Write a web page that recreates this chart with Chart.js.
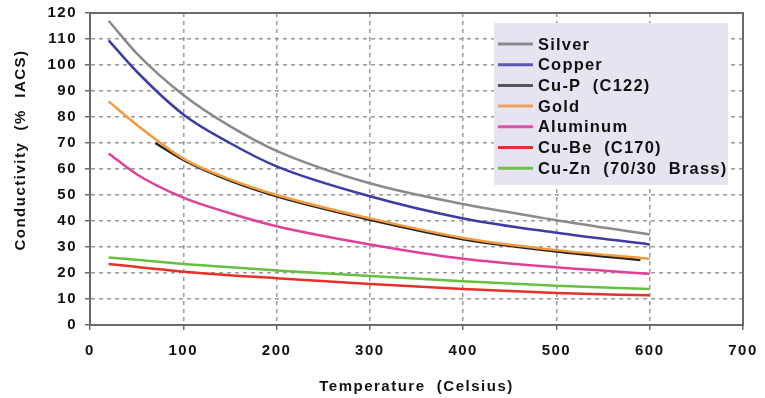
<!DOCTYPE html>
<html>
<head>
<meta charset="utf-8">
<script src="https://cdn.jsdelivr.net/npm/chart.js@4"></script>
<style>
  html, body { margin: 0; padding: 0; background: #fff; }
  #wrap { width: 765px; height: 398px; }
</style>
</head>
<body>
<div id="wrap"><canvas id="chart" width="765" height="398"></canvas></div>
<script>
// temperatures (Celsius) at which values were read
const tempsMain = [20, 50, 100, 150, 200, 300, 400, 500, 600];
const tempsCuP = [70, 100, 150, 200, 300, 400, 500, 590];
const tempsLow = [20, 100, 200, 300, 400, 500, 600];

// conductivity, % IACS
const silver = [117, 104.5, 88.5, 76.5, 67, 54.5, 46.5, 40.3, 34.8];
const copper = [109.5, 97.5, 81, 70, 61, 49.5, 41, 35.5, 31];
const cuP = [70, 63.5, 55.5, 49.5, 40.5, 33, 28.3, 25];
const gold = [86, 77, 64, 56, 50, 41, 33.5, 28.8, 25.5];
const aluminum = [66, 58, 49, 43, 38, 31, 25.5, 22.2, 19.7];
const cuBe = [23.5, 20.5, 18, 15.8, 13.8, 12.3, 11.4];
const cuZn = [26, 23.5, 21, 18.8, 16.8, 15.1, 13.8];

const xTicks = [0, 100, 200, 300, 400, 500, 600, 700];
const yTicks = [0, 10, 20, 30, 40, 50, 60, 70, 80, 90, 100, 110, 120];

const xTitle = 'Temperature  (Celsius)';
const yTitle = 'Conductivity  (%  IACS)';

function pts(xs, ys) {
    return ys.map((y, i) => ({ x: xs[i], y: y }));
}

const series = [
    { label: 'Silver', xs: tempsMain, ys: silver, color: '#8a8a8a', legend: '#8a8a8a', order: 1 },
    { label: 'Copper', xs: tempsMain, ys: copper, color: '#3c3ca6', legend: '#5a5ab0', order: 2 },
    { label: 'Cu-P  (C122)', xs: tempsCuP, ys: cuP, color: '#222222', legend: '#555560', order: 3 },
    { label: 'Gold', xs: tempsMain, ys: gold, color: '#f59a3c', legend: '#f0a060', order: 4 },
    { label: 'Aluminum', xs: tempsMain, ys: aluminum, color: '#e0409a', legend: '#e050a8', order: 5 },
    { label: 'Cu-Be  (C170)', xs: tempsLow, ys: cuBe, color: '#e8302a', legend: '#e03030', order: 6 },
    { label: 'Cu-Zn  (70/30  Brass)', xs: tempsLow, ys: cuZn, color: '#66c040', legend: '#70c050', order: 7 }
];

const FONT = '"Liberation Sans", Arial, sans-serif';
const SPACING = '1.5px';

// wider letters like the original
const spacingPlugin = {
    id: 'spacing',
    beforeLayout(chart) { chart.ctx.letterSpacing = SPACING; },
    beforeDraw(chart) { chart.ctx.letterSpacing = SPACING; }
};

// plot frame, y title and in-plot legend
const framePlugin = {
    id: 'frame',
    afterDraw(chart) {
        const ctx = chart.ctx;
        const a = chart.chartArea;
        ctx.save();
        ctx.strokeStyle = '#6a6a6a';
        ctx.lineWidth = 2;
        ctx.strokeRect(a.left, a.top, a.right - a.left, a.bottom - a.top);

        // y axis title (sits a bit above the axis centre in the original)
        ctx.save();
        ctx.translate(21, 150);
        ctx.rotate(-Math.PI / 2);
        ctx.font = 'bold 15px ' + FONT;
        ctx.letterSpacing = SPACING;
        ctx.fillStyle = '#111';
        ctx.textAlign = 'center';
        ctx.textBaseline = 'middle';
        ctx.fillText(yTitle, 0, 0);
        ctx.restore();

        // legend box
        const bx = 494, by = 23, bw = 234, bh = 162;
        ctx.fillStyle = '#e6e4f1';
        ctx.fillRect(bx, by, bw, bh);
        ctx.font = 'bold 16.5px ' + FONT;
        ctx.letterSpacing = '1.2px';
        ctx.textBaseline = 'middle';
        ctx.textAlign = 'left';
        chart.data.datasets.forEach((ds, i) => {
            const y = 44 + i * 20.7;
            ctx.strokeStyle = ds.legendColor;
            ctx.lineWidth = 3;
            ctx.beginPath();
            ctx.moveTo(498, y);
            ctx.lineTo(533, y);
            ctx.stroke();
            ctx.fillStyle = '#111';
            ctx.fillText(ds.label, 538, y + 1);
        });
        ctx.restore();
    }
};

const tickFont = { family: FONT, size: 15, weight: 'bold' };

const ctx = document.getElementById('chart').getContext('2d');
new Chart(ctx, {
    type: 'line',
    data: {
        datasets: series.map(s => ({
            label: s.label,
            data: pts(s.xs, s.ys),
            borderColor: s.color,
            legendColor: s.legend,
            borderWidth: 2.5,
            pointRadius: 0,
            tension: 0.4,
            cubicInterpolationMode: 'monotone',
            fill: false,
            order: 10 - s.order
        }))
    },
    options: {
        responsive: false,
        animation: false,
        layout: { padding: { left: 0, top: 13, right: 22, bottom: 0 } },
        plugins: {
            legend: { display: false },
            tooltip: { enabled: false }
        },
        scales: {
            x: {
                type: 'linear',
                min: 0,
                max: 700,
                afterBuildTicks: s => { s.ticks = xTicks.map(v => ({ value: v })); },
                afterFit: s => { s.height = 73; s.paddingLeft = 0; s.paddingRight = 0; },
                grid: {
                    color: '#9a9a9a',
                    lineWidth: 1.5,
                    tickLength: 5,
                    tickColor: '#6a6a6a',
                    tickBorderDash: []
                },
                border: { display: true, color: '#6a6a6a', width: 2, dash: [4, 4] },
                ticks: {
                    color: '#111',
                    padding: 12,
                    maxRotation: 0,
                    font: tickFont
                },
                title: {
                    display: true,
                    text: xTitle,
                    color: '#111',
                    padding: { top: 0, bottom: 2 },
                    font: { family: FONT, size: 15, weight: 'bold' }
                }
            },
            y: {
                min: 0,
                max: 120,
                afterBuildTicks: s => { s.ticks = yTicks.map(v => ({ value: v })); },
                afterFit: s => { s.width = 90; s.paddingTop = 0; s.paddingBottom = 0; },
                grid: {
                    color: '#9a9a9a',
                    lineWidth: 1.5,
                    tickLength: 5,
                    tickColor: '#6a6a6a',
                    tickBorderDash: []
                },
                border: { display: true, color: '#6a6a6a', width: 2, dash: [4, 4] },
                ticks: {
                    color: '#111',
                    padding: 8,
                    font: tickFont
                },
                title: { display: false }
            }
        }
    },
    plugins: [spacingPlugin, framePlugin]
});
</script>
</body>
</html>
